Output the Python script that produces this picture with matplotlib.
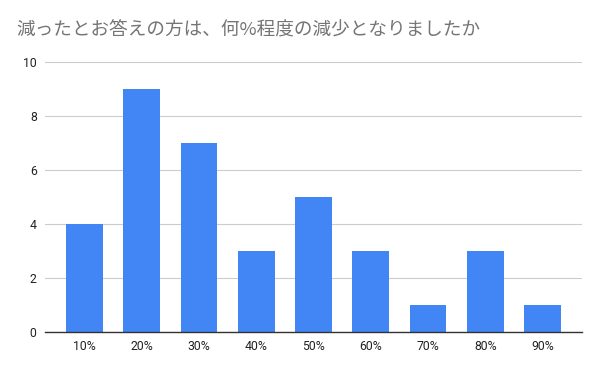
import matplotlib.pyplot as plt
import numpy as np

plt.rcParams['font.family'] = ['Noto Sans CJK JP', 'DejaVu Sans']

categories = ['10%', '20%', '30%', '40%', '50%', '60%', '70%', '80%', '90%']
counts = [4, 9, 7, 3, 5, 3, 1, 3, 1]
yticks = [0, 2, 4, 6, 8, 10]

fig = plt.figure(figsize=(6, 3.71), dpi=100)
ax = fig.add_axes([0.075, 0.105, 0.895, 0.728])

x = np.arange(len(categories))
ax.bar(x, counts, width=0.645, color='#4285F4', zorder=3)

ax.set_xlim(-0.69, len(categories) - 1 + 0.69)
ax.set_ylim(0, 10)
ax.set_yticks(yticks)
ax.set_xticks(x)
ax.set_xticklabels(categories, fontsize=8.8, color='#222222', family='Roboto')
ax.set_yticklabels([str(v) for v in yticks], fontsize=8.8, color='#222222', family='Roboto')
ax.grid(axis='y', color='#cccccc', linewidth=0.8, zorder=0)
ax.tick_params(length=0, pad=6)
for s in ['top', 'right', 'left']:
    ax.spines[s].set_visible(False)
ax.spines['bottom'].set_color('#333333')
ax.spines['bottom'].set_linewidth(1)
ax.spines['bottom'].set_zorder(4)

fig.text(0.027, 0.918, '減ったとお答えの方は、何%程度の減少となりましたか',
         fontsize=13.4, color='#757575', va='center', ha='left')

fig.savefig('out.png', dpi=100)
